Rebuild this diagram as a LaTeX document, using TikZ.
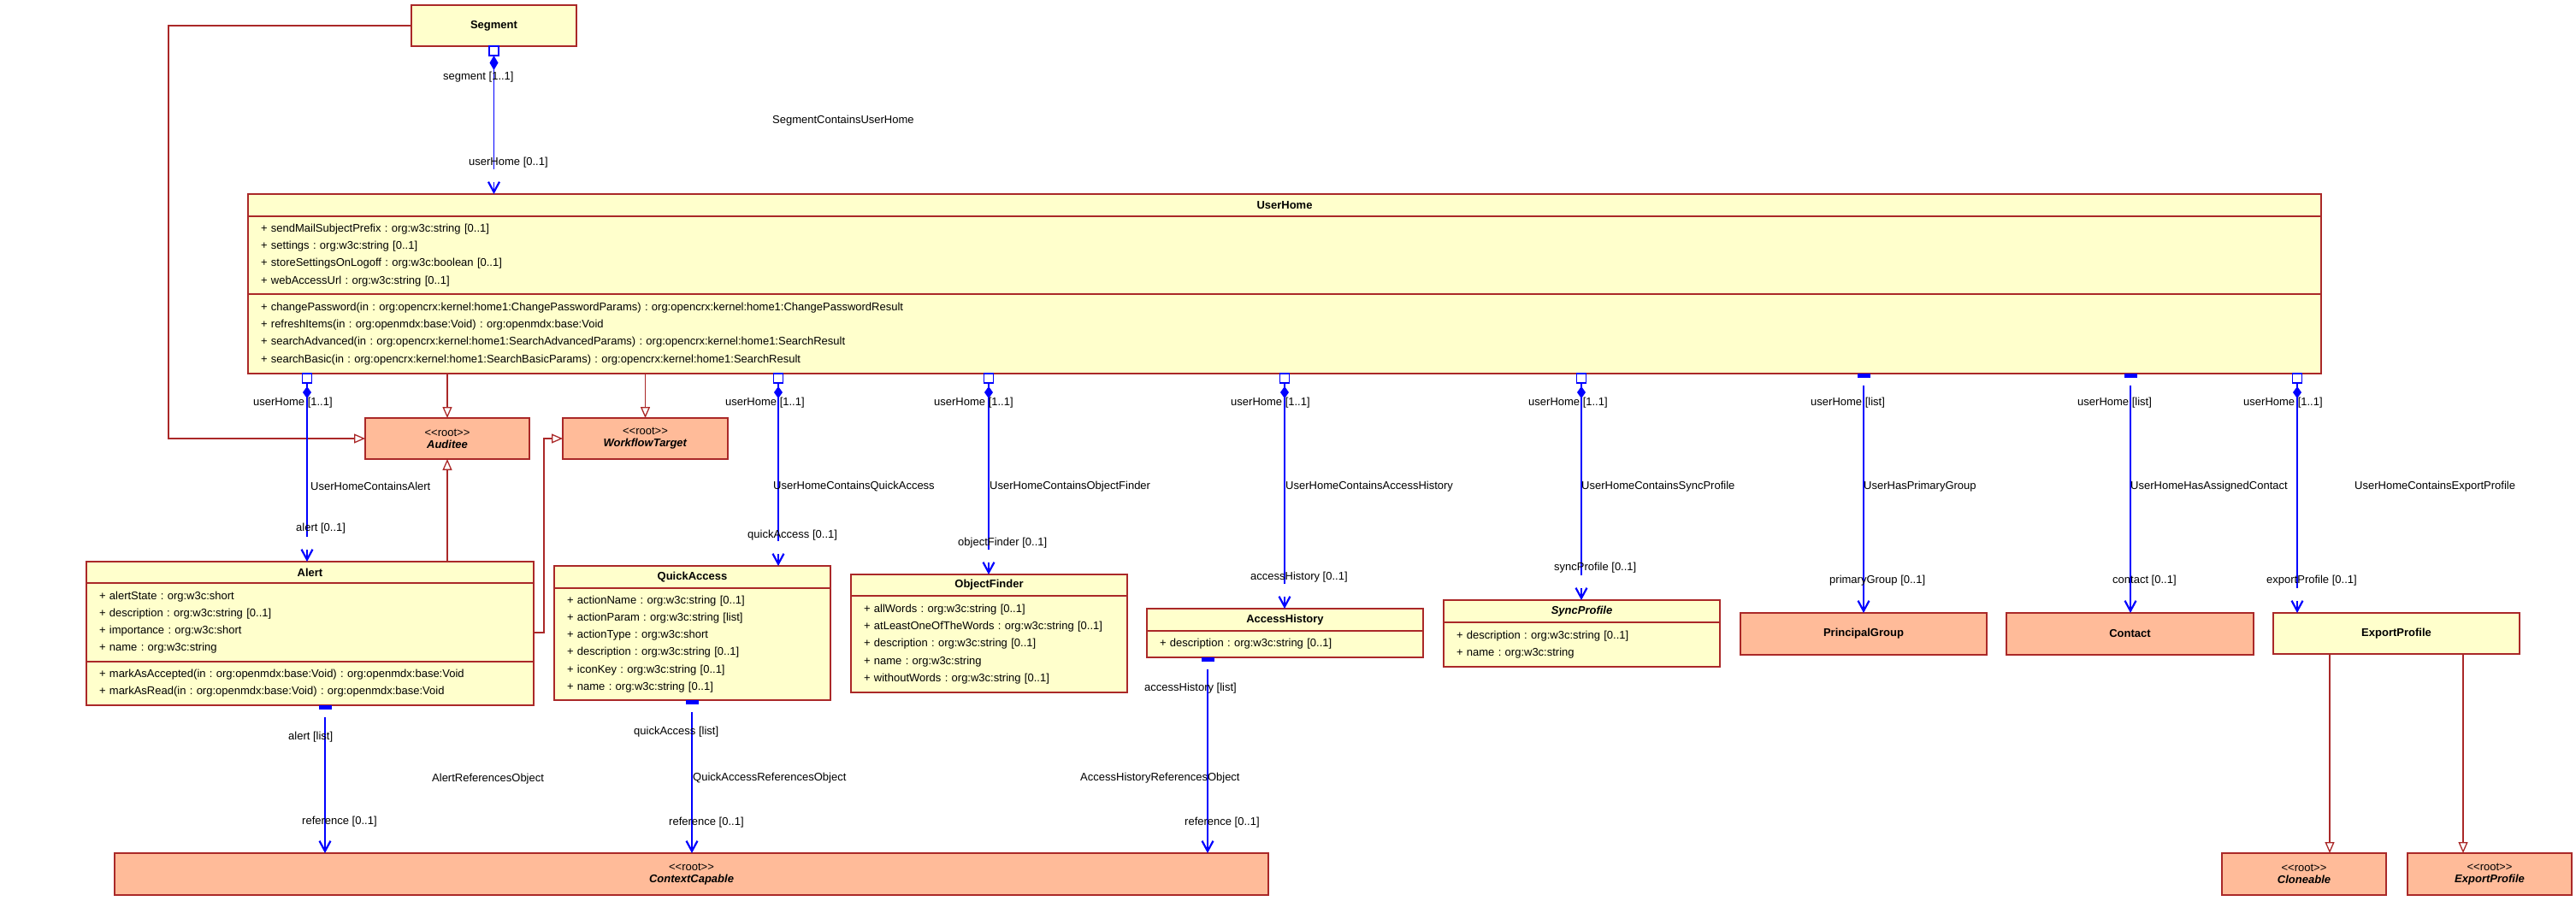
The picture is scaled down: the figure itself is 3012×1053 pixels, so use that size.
\documentclass[tikz,border=0pt]{standalone}
\usepackage{fontspec}
\setmainfont{Liberation Sans}
\usetikzlibrary{positioning,calc,arrows.meta,shapes.geometric}

\definecolor{umlyellow}{RGB}{255,255,204}
\definecolor{umlsalmon}{RGB}{255,187,153}
\definecolor{umlred}{RGB}{170,40,40}
\definecolor{umlblue}{RGB}{0,0,255}
\newcommand{\rootmark}{\mbox{<}\mbox{<}root\mbox{>}\mbox{>}}

\tikzset{
  every node/.style={font=\fontsize{13}{20.2}\selectfont},
  box/.style={draw=umlred, line width=1.6pt, inner sep=0pt, outer sep=0pt},
  cls/.style={box, fill=umlyellow},
  ext/.style={box, fill=umlsalmon, align=center, font=\fontsize{13}{14}\selectfont},
  clshead/.style={font=\fontsize{13}{20.2}\selectfont\bfseries},
  feat/.style={cls, align=left, inner xsep=15pt, below=0pt of #1},
  lbl/.style={anchor=west, inner sep=0pt},
  gen/.style={draw=umlred, line width=1.3pt, -{Triangle[open, length=13pt, width=11pt]}},
  assoc/.style={draw=umlblue, line width=1.5pt},
  comp/.style={assoc, shorten >=29pt},
  ref/.style={assoc, shorten <=14pt, -{Straight Barb[length=12pt, width=13pt, line width=2.2pt]}},
  endtip/.style={assoc, -{Straight Barb[length=12pt, width=13pt, line width=2.2pt]}},
  sqr/.style={draw=umlblue, fill=white, line width=1.2pt, minimum width=11pt, minimum height=11pt, inner sep=0pt, outer sep=0pt},
  dmd/.style={diamond, fill=umlblue, minimum width=10pt, minimum height=14pt, inner sep=0pt, outer sep=0pt},
  bar/.style={fill=umlblue, minimum width=15pt, minimum height=5pt, inner sep=0pt, outer sep=0pt}
}

\begin{document}
\frenchspacing
\begin{tikzpicture}[x=1pt, y=-1pt]
  \fill[white] (0,0) rectangle (3012,1053);
  \useasboundingbox (0,0) rectangle (3012,1053);

  \node[cls, clshead, minimum width=193pt, minimum height=48pt] (seg) at (577.5,30) {Segment};

  \node[cls, clshead, minimum width=2424pt, minimum height=26pt] (uh) at (1502,240) {UserHome};
  \node[feat=uh, text width=2394pt, minimum height=91pt] (uh-at) {%
    + sendMailSubjectPrefix : org:w3c:string [0..1]\\
    + settings : org:w3c:string [0..1]\\
    + storeSettingsOnLogoff : org:w3c:boolean [0..1]\\
    + webAccessUrl : org:w3c:string [0..1]};
  \node[feat=uh-at, text width=2394pt, minimum height=93pt] (uh-op) {%
    + changePassword(in : org:opencrx:kernel:home1:ChangePasswordParams) : org:opencrx:kernel:home1:ChangePasswordResult\\
    + refreshItems(in : org:openmdx:base:Void) : org:openmdx:base:Void\\
    + searchAdvanced(in : org:opencrx:kernel:home1:SearchAdvancedParams) : org:opencrx:kernel:home1:SearchResult\\
    + searchBasic(in : org:opencrx:kernel:home1:SearchBasicParams) : org:opencrx:kernel:home1:SearchResult};

  \node[ext, minimum width=192pt, minimum height=48pt] (aud) at (523,513) {\rootmark\\\textbf{\textit{Auditee}}};
  \node[ext, minimum width=193pt, minimum height=48pt] (wft) at (754.5,513) {\rootmark\\\textbf{\textit{WorkflowTarget}}};

  \node[cls, clshead, minimum width=523pt, minimum height=25pt] (al) at (362.5,669.5) {Alert};
  \node[feat=al, text width=493pt, minimum height=92pt] (al-at) {%
    + alertState : org:w3c:short\\
    + description : org:w3c:string [0..1]\\
    + importance : org:w3c:short\\
    + name : org:w3c:string};
  \node[feat=al-at, text width=493pt, minimum height=51pt] (al-op) {%
    + markAsAccepted(in : org:openmdx:base:Void) : org:openmdx:base:Void\\
    + markAsRead(in : org:openmdx:base:Void) : org:openmdx:base:Void};

  \node[cls, clshead, minimum width=323pt, minimum height=26pt] (qa) at (809.5,675) {QuickAccess};
  \node[feat=qa, text width=293pt, minimum height=131pt] (qa-at) {%
    + actionName : org:w3c:string [0..1]\\
    + actionParam : org:w3c:string [list]\\
    + actionType : org:w3c:short\\
    + description : org:w3c:string [0..1]\\
    + iconKey : org:w3c:string [0..1]\\
    + name : org:w3c:string [0..1]};

  \node[cls, clshead, minimum width=323pt, minimum height=25pt] (of) at (1156.5,684.5) {ObjectFinder};
  \node[feat=of, text width=293pt, minimum height=113pt] (of-at) {%
    + allWords : org:w3c:string [0..1]\\
    + atLeastOneOfTheWords : org:w3c:string [0..1]\\
    + description : org:w3c:string [0..1]\\
    + name : org:w3c:string\\
    + withoutWords : org:w3c:string [0..1]};

  \node[cls, clshead, minimum width=323pt, minimum height=26pt] (ah) at (1502.5,725) {AccessHistory};
  \node[feat=ah, text width=293pt, minimum height=31pt] (ah-at) {%
    + description : org:w3c:string [0..1]};

  \node[cls, clshead, minimum width=323pt, minimum height=26pt] (sp) at (1849.5,715) {\textit{SyncProfile}};
  \node[feat=sp, text width=293pt, minimum height=52pt] (sp-at) {%
    + description : org:w3c:string [0..1]\\
    + name : org:w3c:string};

  \node[ext, clshead, minimum width=288pt, minimum height=49pt] (pg) at (2179,741.5) {PrincipalGroup};
  \node[ext, clshead, minimum width=289pt, minimum height=49pt] (ct) at (2490.5,741.5) {Contact};
  \node[cls, clshead, minimum width=288pt, minimum height=48pt] (ep) at (2802,741) {ExportProfile};

  \node[ext, minimum width=1349pt, minimum height=49pt] (cc) at (808.5,1022.5) {\rootmark\\\textbf{\textit{ContextCapable}}};
  \node[ext, minimum width=192pt, minimum height=49pt] (clo) at (2694,1022.5) {\rootmark\\\textbf{\textit{Cloneable}}};
  \node[ext, minimum width=192pt, minimum height=49pt] (epr) at (2911,1022.5) {\rootmark\\\textbf{\textit{ExportProfile}}};

  \coordinate (uh-al) at (359,437);
  \coordinate (uh-qa) at (910,437);
  \coordinate (uh-of) at (1156,437);
  \coordinate (uh-ah) at (1502,437);
  \coordinate (uh-sp) at (1849,437);
  \coordinate (uh-pg) at (2179,437);
  \coordinate (uh-ct) at (2491,437);
  \coordinate (uh-ep) at (2686,437);
  \coordinate (al-cc) at (380,825);
  \coordinate (qa-cc) at (809,819);
  \coordinate (ah-cc) at (1412,769);
  \coordinate (ep-clo) at (2724,765);
  \coordinate (ep-epr) at (2880,765);

  \begin{scope}[gen]
    \draw (seg.west) -| ([xshift=-230pt]aud.west) to (aud.west);
    \draw (uh-op.south -| aud.north) to (aud.north);
    \draw (uh-op.south -| wft.north) to (wft.north);
    \draw (al.north -| aud.south) to (aud.south);
    \draw ([yshift=-12pt]al-at.east) -| ([xshift=-22pt]wft.west) to (wft.west);
    \draw (ep-clo) to (ep-clo |- clo.north);
    \draw (ep-epr) to (ep-epr |- epr.north);
  \end{scope}

  \begin{scope}[comp]
    \draw (seg.south) to (seg.south |- uh.north);
    \draw (uh-al) to (uh-al |- al.north);
    \draw (uh-qa) to (uh-qa |- qa.north);
    \draw (uh-of) to (uh-of |- of.north);
    \draw (uh-ah) to (uh-ah |- ah.north);
    \draw (uh-sp) to (uh-sp |- sp.north);
    \draw (uh-ep) to (uh-ep |- ep.north);
  \end{scope}
  \begin{scope}[endtip]
    \draw ($(seg.south |- uh.north)+(0,-14)$) to (seg.south |- uh.north);
    \draw ($(uh-al |- al.north)+(0,-14)$) to (uh-al |- al.north);
    \draw ($(uh-qa |- qa.north)+(0,-14)$) to (uh-qa |- qa.north);
    \draw ($(uh-of |- of.north)+(0,-14)$) to (uh-of |- of.north);
    \draw ($(uh-ah |- ah.north)+(0,-14)$) to (uh-ah |- ah.north);
    \draw ($(uh-sp |- sp.north)+(0,-14)$) to (uh-sp |- sp.north);
    \draw ($(uh-ep |- ep.north)+(0,-14)$) to (uh-ep |- ep.north);
  \end{scope}
  \begin{scope}[ref]
    \draw (uh-pg) to (uh-pg |- pg.north);
    \draw (uh-ct) to (uh-ct |- ct.north);
    \draw (al-cc) to (al-cc |- cc.north);
    \draw (qa-cc) to (qa-cc |- cc.north);
    \draw (ah-cc) to (ah-cc |- cc.north);
  \end{scope}

  \node[sqr, anchor=north] (seg-s) at (seg.south) {};
  \node[dmd, below=0pt of seg-s, minimum height=17pt] {};
  \node[sqr, anchor=north] (uh-al-s) at (uh-al) {};
  \node[dmd, below=4pt of uh-al-s] {};
  \node[sqr, anchor=north] (uh-qa-s) at (uh-qa) {};
  \node[dmd, below=4pt of uh-qa-s] {};
  \node[sqr, anchor=north] (uh-of-s) at (uh-of) {};
  \node[dmd, below=4pt of uh-of-s] {};
  \node[sqr, anchor=north] (uh-ah-s) at (uh-ah) {};
  \node[dmd, below=4pt of uh-ah-s] {};
  \node[sqr, anchor=north] (uh-sp-s) at (uh-sp) {};
  \node[dmd, below=4pt of uh-sp-s] {};
  \node[sqr, anchor=north] (uh-ep-s) at (uh-ep) {};
  \node[dmd, below=4pt of uh-ep-s] {};
  \node[bar, anchor=north] at (uh-pg) {};
  \node[bar, anchor=north] at (uh-ct) {};
  \node[bar, anchor=north] at (al-cc) {};
  \node[bar, anchor=north] at (qa-cc) {};
  \node[bar, anchor=north] at (ah-cc) {};

  \node[lbl] (l-seg1) at (518,90) {segment [1..1]};
  \node[lbl] (l-seg2) at (903,141) {SegmentContainsUserHome};
  \node[lbl] (l-seg3) at (548,190) {userHome [0..1]};
  \node[lbl] (l-al1) at (296,471) {userHome [1..1]};
  \node[lbl] (l-al2) at (363,569) {UserHomeContainsAlert};
  \node[lbl] (l-al3) at (346,618) {alert [0..1]};
  \node[lbl] (l-qa1) at (848,471) {userHome [1..1]};
  \node[lbl] (l-qa2) at (904,569) {UserHomeContainsQuickAccess};
  \node[lbl] (l-qa3) at (874,626) {quickAccess [0..1]};
  \node[lbl] (l-of1) at (1092,471) {userHome [1..1]};
  \node[lbl] (l-of2) at (1157,569) {UserHomeContainsObjectFinder};
  \node[lbl] (l-of3) at (1120,635) {objectFinder [0..1]};
  \node[lbl] (l-ah1) at (1439,471) {userHome [1..1]};
  \node[lbl] (l-ah2) at (1503,569) {UserHomeContainsAccessHistory};
  \node[lbl] (l-ah3) at (1462,675) {accessHistory [0..1]};
  \node[lbl] (l-sp1) at (1787,471) {userHome [1..1]};
  \node[lbl] (l-sp2) at (1849,569) {UserHomeContainsSyncProfile};
  \node[lbl] (l-sp3) at (1817,664) {syncProfile [0..1]};
  \node[lbl] (l-pg1) at (2117,471) {userHome [list]};
  \node[lbl] (l-pg2) at (2179,569) {UserHasPrimaryGroup};
  \node[lbl] (l-pg3) at (2139,679) {primaryGroup [0..1]};
  \node[lbl] (l-ct1) at (2429,471) {userHome [list]};
  \node[lbl] (l-ct2) at (2491,569) {UserHomeHasAssignedContact};
  \node[lbl] (l-ct3) at (2470,679) {contact [0..1]};
  \node[lbl] (l-ep1) at (2623,471) {userHome [1..1]};
  \node[lbl] (l-ep2) at (2753,569) {UserHomeContainsExportProfile};
  \node[lbl] (l-ep3) at (2650,679) {exportProfile [0..1]};
  \node[lbl] (l-alc1) at (337,862) {alert [list]};
  \node[lbl] (l-alc2) at (505,911) {AlertReferencesObject};
  \node[lbl] (l-alc3) at (353,961) {reference [0..1]};
  \node[lbl] (l-qac1) at (741,856) {quickAccess [list]};
  \node[lbl] (l-qac2) at (810,910) {QuickAccessReferencesObject};
  \node[lbl] (l-qac3) at (782,962) {reference [0..1]};
  \node[lbl] (l-ahc1) at (1338,805) {accessHistory [list]};
  \node[lbl] (l-ahc2) at (1263,910) {AccessHistoryReferencesObject};
  \node[lbl] (l-ahc3) at (1385,962) {reference [0..1]};
\end{tikzpicture}
\end{document}
